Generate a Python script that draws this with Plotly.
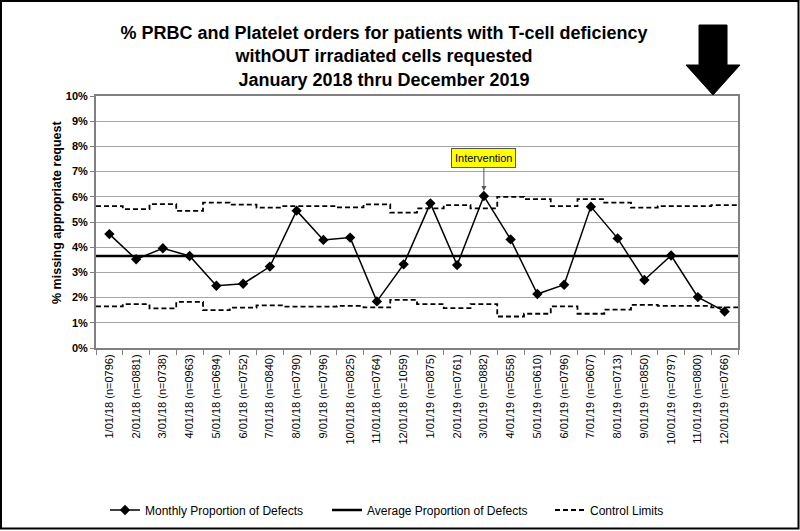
import plotly.graph_objects as go

# ---------------- data ----------------
months = ["1/01/18", "2/01/18", "3/01/18", "4/01/18", "5/01/18", "6/01/18",
          "7/01/18", "8/01/18", "9/01/18", "10/01/18", "11/01/18", "12/01/18",
          "1/01/19", "2/01/19", "3/01/19", "4/01/19", "5/01/19", "6/01/19",
          "7/01/19", "8/01/19", "9/01/19", "10/01/19", "11/01/19", "12/01/19"]
n_orders = ["0796", "0881", "0738", "0963", "0694", "0752", "0840", "0790",
            "0796", "0825", "0764", "1059", "0875", "0761", "0882", "0558",
            "0610", "0796", "0607", "0713", "0850", "0797", "0800", "0766"]
monthly = [4.52, 3.52, 3.96, 3.65, 2.47, 2.55, 3.23, 5.45, 4.29, 4.38, 1.85, 3.32,
           5.74, 3.29, 6.03, 4.31, 2.14, 2.51, 5.61, 4.35, 2.70, 3.67, 2.02, 1.45]
average = 3.65
ucl = [5.63, 5.51, 5.71, 5.44, 5.77, 5.69, 5.57, 5.63, 5.63, 5.58, 5.70, 5.37,
       5.54, 5.67, 5.54, 6.00, 5.91, 5.63, 5.91, 5.77, 5.57, 5.63, 5.63, 5.67]
lcl = [1.65, 1.74, 1.57, 1.83, 1.50, 1.60, 1.69, 1.64, 1.64, 1.67, 1.61, 1.91,
       1.74, 1.58, 1.74, 1.25, 1.36, 1.65, 1.36, 1.52, 1.71, 1.67, 1.67, 1.61]
y_ticks = list(range(0, 11))
y_tick_labels = [f"{v}%" for v in y_ticks]
intervention_month = "3/01/19"

labels = [f"{m} (n={n})" for m, n in zip(months, n_orders)]

# ---------------- layout geometry ----------------
W, H = 800, 531
ML, MR, MT, MB = 96, 62, 96, 183
PW, PH = W - ML - MR, H - MT - MB
FONT = "Arial, Liberation Sans, sans-serif"


def px(x):
    return (x - ML) / PW


def py(y):
    return (H - MB - y) / PH


fig = go.Figure()

# control limits as step lines on a hidden numeric overlay axis
cx, cy = [], []
for lim in (ucl, lcl):
    cx += [i - 0.5 for i in range(len(lim))] + [len(lim) - 0.5, None]
    cy += list(lim) + [lim[-1], None]
fig.add_trace(go.Scatter(
    x=cx, y=cy, xaxis="x2", mode="lines", line_shape="hv",
    line=dict(color="black", width=1.8, dash="5px,3px"),
    name="Control Limits", legend="legend3", connectgaps=False))

# average line
fig.add_trace(go.Scatter(
    x=[-0.5, len(months) - 0.5], y=[average, average], xaxis="x2",
    mode="lines", line=dict(color="black", width=2.5),
    name="Average Proportion of Defects", legend="legend2"))

# monthly values
fig.add_trace(go.Scatter(
    x=labels, y=monthly, mode="lines+markers",
    line=dict(color="black", width=1.5),
    marker=dict(symbol="diamond", size=8, color="black"),
    name="Monthly Proportion of Defects", legend="legend"))

idx = months.index(intervention_month)
fig.add_annotation(
    x=labels[idx], y=monthly[idx], xref="x", yref="y",
    text="Intervention", showarrow=True, ax=0, ay=-38,
    arrowhead=2, arrowsize=1, arrowwidth=1, arrowcolor="#555555", standoff=5,
    bgcolor="#ffff00", bordercolor="#555555", borderwidth=1, borderpad=3,
    font=dict(family=FONT, size=11, color="black"))

# y axis title as rotated annotation
fig.add_annotation(
    x=px(57), y=py(212), xref="paper", yref="paper", showarrow=False,
    text="<b>% missing appropriate request</b>", textangle=-90,
    xanchor="center", yanchor="middle",
    font=dict(family=FONT, size=12.5, color="black"))

# big black arrow (decoration)
pts = [(699, 25), (727, 25), (727, 65), (740, 65), (713, 95), (686, 65), (699, 65)]
path = "M " + " L ".join(f"{px(a):.4f},{py(b):.4f}" for a, b in pts) + " Z"
fig.add_shape(type="path", path=path, xref="paper", yref="paper",
              fillcolor="black", line=dict(color="black", width=1))

# outer border of the image
fig.add_shape(type="rect", xref="paper", yref="paper",
              x0=px(1), x1=px(W - 1.5), y0=py(H - 2.5), y1=py(1),
              line=dict(color="black", width=2), fillcolor="rgba(0,0,0,0)")

legend_common = dict(orientation="h", xref="container", xanchor="left",
                     y=py(510), yanchor="middle",
                     font=dict(family=FONT, size=12, color="black"),
                     bgcolor="rgba(0,0,0,0)", itemwidth=30)

fig.update_layout(
    width=W, height=H,
    margin=dict(l=ML, r=MR, t=MT, b=MB, autoexpand=False),
    paper_bgcolor="white", plot_bgcolor="white",
    font=dict(family=FONT, color="black"),
    title=dict(
        text="<b>% PRBC and Platelet orders for patients with T-cell deficiency<br>"
             "withOUT irradiated cells requested<br>January 2018 thru December 2019</b>",
        font=dict(family=FONT, size=18, color="black"),
        x=384 / W, xref="container", xanchor="center",
        y=1 - 39 / H, yref="container", yanchor="top"),
    xaxis=dict(
        type="category", range=[-0.5, len(months) - 0.5],
        tickangle=-90, tickfont=dict(family=FONT, size=11, color="black"),
        tickson="boundaries", ticks="outside", ticklen=5, tickcolor="#808080",
        showgrid=False, showline=True, linecolor="#808080", linewidth=2,
        mirror=True, zeroline=False, automargin=False),
    xaxis2=dict(overlaying="x", range=[-0.5, len(months) - 0.5],
                visible=False, showgrid=False, zeroline=False),
    yaxis=dict(
        range=[0, 10], tickmode="array", tickvals=y_ticks, ticktext=y_tick_labels,
        tickfont=dict(family=FONT, size=11, color="black", weight="bold"),
        ticks="outside", ticklen=4, tickcolor="#808080",
        showgrid=True, gridcolor="#a6a6a6", gridwidth=1,
        showline=True, linecolor="#808080", linewidth=2, mirror=True,
        zeroline=False, automargin=False),
    showlegend=True,
    legend=dict(legend_common, x=105 / W),
    legend2=dict(legend_common, x=327 / W),
    legend3=dict(legend_common, x=550 / W),
)

fig.write_html("out.html",
               config={"displayModeBar": False},
               post_script="document.body.style.margin='0';"
                           "document.body.style.overflow='hidden';")
